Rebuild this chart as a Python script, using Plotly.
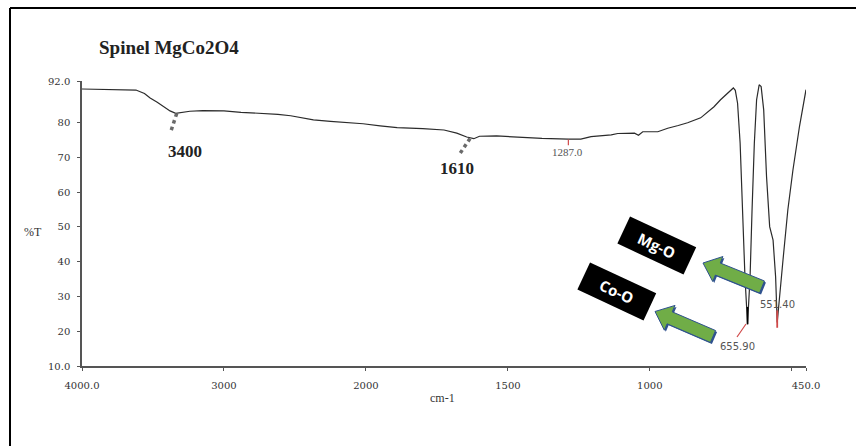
import math
import plotly.graph_objects as go

# FTIR spectrum of spinel MgCo2O4 (wavenumber in cm-1, transmittance in %T)
wavenumber = [4000, 3900, 3800, 3700, 3620, 3560, 3520, 3470, 3425, 3380, 3340, 3300,
              3240, 3150, 3050, 3000, 2880, 2720, 2620, 2530, 2450, 2370, 2250, 2120,
              2020, 1950, 1890, 1800, 1725, 1680, 1645, 1620, 1600, 1540, 1455, 1380,
              1287, 1243, 1207, 1170, 1136, 1113, 1054, 1040, 1025, 972, 937, 900, 867,
              821, 774, 751, 716, 706, 699, 691, 682, 673, 665, 655.9, 647, 640, 632,
              624, 615, 608, 599, 589, 578, 566, 557, 551.4, 543, 531, 514, 496, 473, 450]
transmittance = [89.7, 89.6, 89.6, 89.5, 89.4, 88.4, 87.1, 85.9, 84.6, 83.4, 82.7, 82.9,
                 83.3, 83.5, 83.4, 83.4, 83.0, 82.7, 82.4, 82.0, 81.5, 80.8, 80.4, 80.0,
                 79.7, 79.1, 78.6, 78.3, 77.9, 77.0, 75.9, 75.4, 76.1, 76.2, 75.8, 75.5,
                 75.3, 75.3, 76.0, 76.2, 76.5, 76.9, 77.0, 76.4, 77.4, 77.4, 78.4, 79.2, 80.0,
                 81.4, 84.6, 86.6, 89.3, 90.0, 89.3, 85.6, 74.1, 54.9, 35.6, 22.0, 35.6, 54.9, 74.1,
                 86.6, 90.9, 90.4, 83.7, 64.5, 50.1, 46.2, 35.6, 22.5, 30.9, 40.5, 54.9, 66.4, 78.9, 89.5]

x_ticks = [4000, 3000, 2000, 1500, 1000, 500, 450]
x_tick_labels = ["4000.0", "3000", "2000", "1500", "1000", "", "450.0"]
y_ticks = [10, 20, 30, 40, 50, 60, 70, 80, 92]
y_tick_labels = ["10.0", "20", "30", "40", "50", "60", "70", "80", "92.0"]

peak_positions = [655.9, 551.4, 1287.0]
peak_labels = ["655.90", "551.40", "1287.0"]
band_labels = ["3400", "1610"]
bond_labels = ["Mg-O", "Co-O"]


def axis_pos(w):
    # region above 2000 cm-1 is drawn at half scale
    return w if w <= 2000 else 2000 + (w - 2000) / 2


x_plot = [axis_pos(w) for w in wavenumber]

# plot-area geometry in pixels, used for the decorations
L, T, W, H = 82, 81, 724, 285


def px(x):
    return (x - L) / W


def py(y):
    return (T + H - y) / H


fig = go.Figure()
fig.add_trace(go.Scatter(x=x_plot, y=transmittance, mode="lines",
                         line=dict(color="#2b2b2b", width=1.2), hoverinfo="skip",
                         showlegend=False))

shapes = []
# outer frame (left and top edges)
shapes.append(dict(type="line", xref="paper", yref="paper", x0=px(10), x1=px(10),
                   y0=py(8), y1=py(460), line=dict(color="black", width=2)))
shapes.append(dict(type="line", xref="paper", yref="paper", x0=px(10), x1=px(870),
                   y0=py(8), y1=py(8), line=dict(color="black", width=2)))

# hatched band markers
for (xa, ya, xb, yb) in [(176.7, 113.5, 170.5, 132.5), (470, 138.5, 460, 153.5)]:
    shapes.append(dict(type="line", xref="paper", yref="paper", x0=px(xa), y0=py(ya),
                       x1=px(xb), y1=py(yb), line=dict(color="#6a6a6a", width=3.5, dash="dot")))

# peak pick markers
shapes.append(dict(type="line", xref="x", yref="y", x0=axis_pos(1287.0), x1=axis_pos(1287.0),
                   y0=75.2, y1=73.5, line=dict(color="#d04848", width=1.2)))
shapes.append(dict(type="line", xref="x", yref="y", x0=axis_pos(655.9), x1=axis_pos(655.9),
                   y0=27.0, y1=22.0, line=dict(color="black", width=1.6)))
shapes.append(dict(type="line", xref="paper", yref="paper", x0=px(746), y0=py(324),
                   x1=px(737), y1=py(337), line=dict(color="#d04848", width=1.2)))
shapes.append(dict(type="line", xref="x", yref="y", x0=axis_pos(551.4), x1=axis_pos(551.4),
                   y0=26.0, y1=21.0, line=dict(color="#d04848", width=1.8)))


def block_arrow(tip, tail, body, head, head_len, dx=0.0, dy=0.0):
    vx, vy = tail[0] - tip[0], tail[1] - tip[1]
    n = math.hypot(vx, vy)
    ux, uy = vx / n, vy / n
    nx, ny = -uy, ux
    bx, by = tip[0] + ux * head_len, tip[1] + uy * head_len
    pts = [tip,
           (bx + nx * head / 2, by + ny * head / 2),
           (bx + nx * body / 2, by + ny * body / 2),
           (tail[0] + nx * body / 2, tail[1] + ny * body / 2),
           (tail[0] - nx * body / 2, tail[1] - ny * body / 2),
           (bx - nx * body / 2, by - ny * body / 2),
           (bx - nx * head / 2, by - ny * head / 2)]
    path = "M " + " L ".join(f"{px(x + dx):.5f},{py(y + dy):.5f}" for x, y in pts) + " Z"
    return path


for tip, tail in [((703, 263), (762, 287)), ((655, 311.5), (713, 336.5))]:
    shapes.append(dict(type="path", xref="paper", yref="paper",
                       path=block_arrow(tip, tail, 13, 27, 16, 1.5, 1.5),
                       fillcolor="#2F528F", line=dict(width=0)))
    shapes.append(dict(type="path", xref="paper", yref="paper",
                       path=block_arrow(tip, tail, 13, 27, 16),
                       fillcolor="#70AD47", line=dict(color="#2F528F", width=1)))

annotations = []


def label(text, x, y, **kw):
    d = dict(text=text, xref="paper", yref="paper", x=px(x), y=py(y),
             xanchor="center", yanchor="middle", showarrow=False)
    d.update(kw)
    annotations.append(d)


label("<b>Spinel MgCo2O4</b>", 97, 47, xanchor="left",
      font=dict(family="Liberation Serif", size=19, color="#222"))
label("%T", 33, 232, font=dict(family="Liberation Serif", size=12, color="#333"))
label("cm-1", 442, 398, font=dict(family="Liberation Serif", size=12, color="#333"))
for txt, (x, y) in zip(band_labels, [(185, 151), (457, 168)]):
    label(f"<b>{txt}</b>", x, y, font=dict(family="Liberation Serif", size=17, color="#222"))
for txt, (x, y), fam in zip(peak_labels, [(737, 346), (777, 304), (567, 152)],
                            ["DejaVu Sans", "DejaVu Sans", "Liberation Serif"]):
    label(txt, x, y, font=dict(family=fam, size=10 if fam == "DejaVu Sans" else 11,
                               color="#555"))
for txt, (x, y) in zip(bond_labels, [(657, 245), (617, 291)]):
    label(txt, x, y, textangle=25, width=72, height=29, borderpad=0,
          bgcolor="black", align="center", valign="middle",
          font=dict(family="Open Sans", size=15, color="white", weight="bold"))

fig.update_layout(
    width=856, height=446,
    margin=dict(l=L, r=856 - L - W, t=T, b=446 - T - H),
    paper_bgcolor="white", plot_bgcolor="white",
    shapes=shapes, annotations=annotations,
    xaxis=dict(range=[axis_pos(4000), axis_pos(450)],
               tickvals=[axis_pos(v) for v in x_ticks], ticktext=x_tick_labels,
               showgrid=False, zeroline=False, showline=True, linecolor="#555", linewidth=1.5,
               ticks="outside", ticklen=3, tickcolor="#555", ticklabelstandoff=6,
               tickfont=dict(family="DejaVu Serif", size=10, color="#333")),
    yaxis=dict(range=[10, 92], tickvals=y_ticks, ticktext=y_tick_labels,
               showgrid=False, zeroline=False, showline=True, linecolor="#555", linewidth=1.5,
               ticks="outside", ticklen=3, tickcolor="#555", ticklabelstandoff=5,
               tickfont=dict(family="DejaVu Serif", size=10, color="#333")),
)

fig.write_html("out.html")
